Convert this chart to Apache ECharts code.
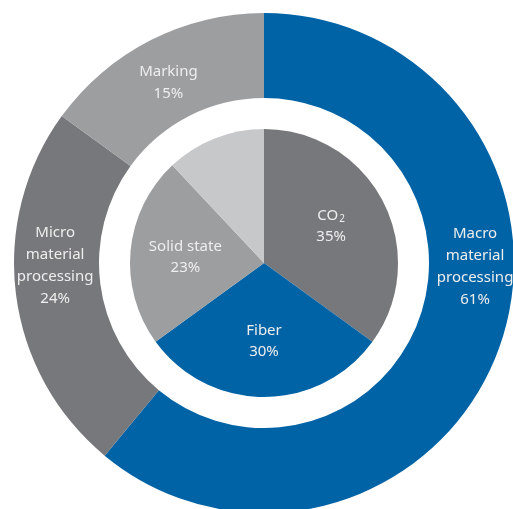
<!DOCTYPE html>
<html lang="en">
<head>
    <meta charset="UTF-8">
    <title>Laser market</title>
    <script src="https://cdn.jsdelivr.net/npm/echarts@6/dist/echarts.min.js"></script>
</head>
<body style="padding: 0; margin: 0; background: #fff">
    <div id="main" style="width: 513px; height: 509px;"></div>
<script>
    // outer ring: applications
    var appNames = ['Macro\nmaterial\nprocessing', 'Micro\nmaterial\nprocessing', 'Marking'];
    var appValues = [61, 24, 15];
    var appColors = ['#0063a6', '#77787b', '#9d9ea0'];
    var appLabelShift = [[13, -68], [0, -24], [0, 7]];

    // inner pie: laser types
    var typeNames = ['CO{sub|2}', 'Fiber', 'Solid state', ''];
    var typeValues = [35, 30, 23, 12];
    var typeColors = ['#77787b', '#0063a6', '#9d9ea0', '#c7c8ca'];
    var typeLabelShift = [[-5, 0], [0, -3], [2, 2], [0, 0]];

    var textColor = '#eeeeee';
    var font = 'Noto Sans';

    function pieData(names, values, colors, shifts) {
        var out = [];
        for (var i = 0; i < names.length; i++) {
            var d = { name: names[i], value: values[i], itemStyle: { color: colors[i] } };
            if (shifts) d.label = { offset: shifts[i] };
            out.push(d);
        }
        return out;
    }

    var labelRich = {
        sub: { fontSize: 10, color: textColor, fontFamily: font, padding: [6, 0, 0, 1] }
    };

    function labelFmt(p) {
        if (!p.name) return '';
        return p.name + '\n' + p.value + '%';
    }

    var myChart = echarts.init(document.getElementById('main'));
    var center = [264, 263];
    var option = {
        animation: false,
        series: [
            {
                type: 'pie',
                radius: [165, 250],
                center: center,
                startAngle: 90,
                clockwise: true,
                silent: true,
                label: {
                    position: 'inside',
                    formatter: labelFmt,
                    color: textColor,
                    fontFamily: font,
                    fontSize: 15,
                    lineHeight: 22
                },
                data: pieData(appNames, appValues, appColors, appLabelShift)
            },
            {
                // inner pie fill
                type: 'pie',
                radius: [0, 134],
                center: center,
                startAngle: 90,
                silent: true,
                label: { show: false },
                labelLine: { show: false },
                data: pieData(typeNames, typeValues, typeColors)
            },
            {
                // inner pie labels, placed a bit further out than the pie middle
                type: 'pie',
                radius: [22, 134],
                center: center,
                startAngle: 90,
                silent: true,
                itemStyle: { color: 'rgba(0,0,0,0)' },
                label: {
                    position: 'inside',
                    formatter: labelFmt,
                    color: textColor,
                    fontFamily: font,
                    fontSize: 15,
                    lineHeight: 21,
                    rich: labelRich
                },
                data: typeNames.map(function (n, i) {
                    return { name: n, value: typeValues[i], label: { offset: typeLabelShift[i] } };
                })
            }
        ]
    };
    myChart.setOption(option);
</script>
</body>
</html>
